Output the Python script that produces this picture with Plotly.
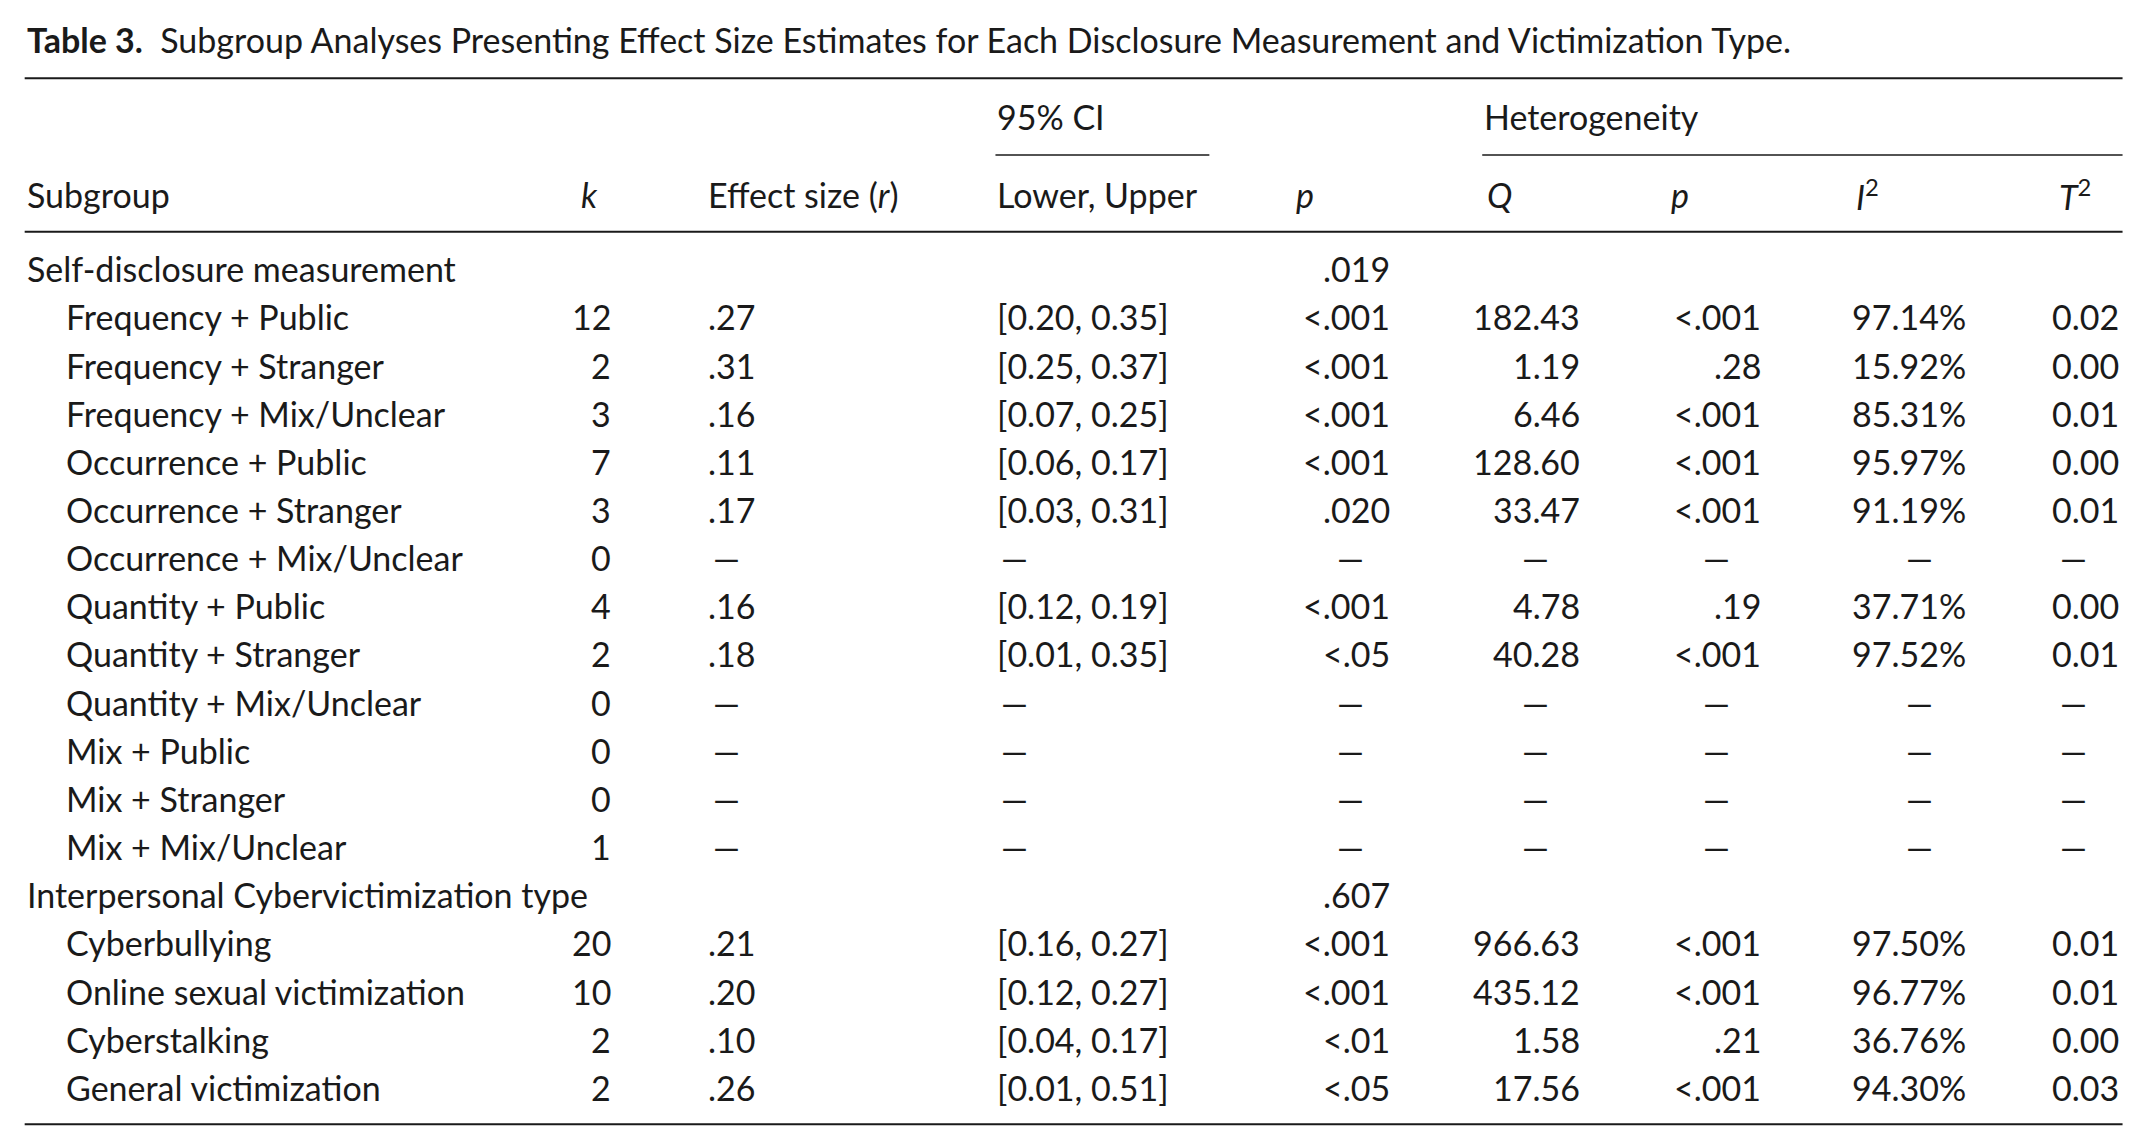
import plotly.graph_objects as go

S = 2139 / 1560  # layout was measured on a 1560-wide copy
OFF = -8         # page body margin shifts everything
FONT = "Lato"
FS = 34
INK = "#1a1a1a"

subgroups = ["Self-disclosure measurement", "Frequency + Public", "Frequency + Stranger",
             "Frequency + Mix/Unclear", "Occurrence + Public", "Occurrence + Stranger",
             "Occurrence + Mix/Unclear", "Quantity + Public", "Quantity + Stranger",
             "Quantity + Mix/Unclear", "Mix + Public", "Mix + Stranger", "Mix + Mix/Unclear",
             "Interpersonal Cybervictimization type", "Cyberbullying",
             "Online sexual victimization", "Cyberstalking", "General victimization"]
is_group = [True] + [False] * 12 + [True] + [False] * 4
k = ["", "12", "2", "3", "7", "3", "0", "4", "2", "0", "0", "0", "1", "", "20", "10", "2", "2"]
D = "—"
r = ["", ".27", ".31", ".16", ".11", ".17", D, ".16", ".18", D, D, D, D, "", ".21", ".20", ".10", ".26"]
ci = ["", "[0.20, 0.35]", "[0.25, 0.37]", "[0.07, 0.25]", "[0.06, 0.17]", "[0.03, 0.31]", D,
      "[0.12, 0.19]", "[0.01, 0.35]", D, D, D, D, "", "[0.16, 0.27]", "[0.12, 0.27]",
      "[0.04, 0.17]", "[0.01, 0.51]"]
p = [".019", "<.001", "<.001", "<.001", "<.001", ".020", D, "<.001", "<.05", D, D, D, D,
     ".607", "<.001", "<.001", "<.01", "<.05"]
q = ["", "182.43", "1.19", "6.46", "128.60", "33.47", D, "4.78", "40.28", D, D, D, D,
     "", "966.63", "435.12", "1.58", "17.56"]
qp = ["", "<.001", ".28", "<.001", "<.001", "<.001", D, ".19", "<.001", D, D, D, D,
      "", "<.001", "<.001", ".21", "<.001"]
i2 = ["", "97.14%", "15.92%", "85.31%", "95.97%", "91.19%", D, "37.71%", "97.52%", D, D, D, D,
      "", "97.50%", "96.77%", "36.76%", "94.30%"]
t2 = ["", "0.02", "0.00", "0.01", "0.00", "0.01", D, "0.00", "0.01", D, D, D, D,
      "", "0.01", "0.01", "0.00", "0.03"]

# (values, x for text, anchor, x for dash centre)
cols = [(k, 447, "right", 440), (r, 515, "left", 530), (ci, 726, "left", 740),
        (p, 1015, "right", 985), (q, 1154, "right", 1120), (qp, 1286, "right", 1252),
        (i2, 1435, "right", 1400), (t2, 1547, "right", 1512)]

fig = go.Figure()
ann = []


def px(v):
    return v * S + OFF


def txt(x, y, s, anchor="left", size=FS):
    ann.append(dict(x=px(x), y=px(y), text=s, xanchor=anchor, yanchor="middle", showarrow=False,
                    font=dict(family=FONT, size=size, color=INK)))


def rule(x0, x1, y, w=2):
    fig.add_shape(type="line", x0=px(x0), x1=px(x1), y0=px(y), y1=px(y),
                  line=dict(color=INK, width=w))


txt(18, 29, "<b>Table 3.</b>  Subgroup Analyses Presenting Effect Size Estimates for Each "
    "Disclosure Measurement and Victimization Type.")
rule(18, 1548, 57)
txt(726, 85, "95% CI")
rule(726, 882, 113, 1.5)
txt(1081, 85, "Heterogeneity")
rule(1081, 1548, 113, 1.5)
for x, s in [(18, "Subgroup"), (422, "<i>k</i>"), (515, "Effect size (<i>r</i>)"),
             (726, "Lower, Upper"), (944, "<i>p</i>"), (1083, "<i>Q</i>"), (1217, "<i>p</i>"),
             (1352, "<i>I</i><sup>2</sup>"), (1500, "<i>T</i><sup>2</sup>")]:
    txt(x, 142, s)
rule(18, 1548, 169)

y0, dy = 196, 35.12
for i, name in enumerate(subgroups):
    y = y0 + i * dy
    txt(18 if is_group[i] else 47, y, name)
    for vals, x, a, xd in cols:
        v = vals[i]
        if not v:
            continue
        if v == D:
            txt(xd, y, v, "center")
        else:
            txt(x, y, v.replace("<", "&lt;"), a)
rule(18, 1548, 820)

fig.update_layout(
    width=2139, height=1146, margin=dict(l=0, r=0, t=0, b=0),
    paper_bgcolor="white", plot_bgcolor="white", annotations=ann, showlegend=False,
    xaxis=dict(range=[0, 2139], visible=False, fixedrange=True),
    yaxis=dict(range=[1146, 0], visible=False, fixedrange=True),
)
fig.write_html("out.html", config={"displayModeBar": False})
